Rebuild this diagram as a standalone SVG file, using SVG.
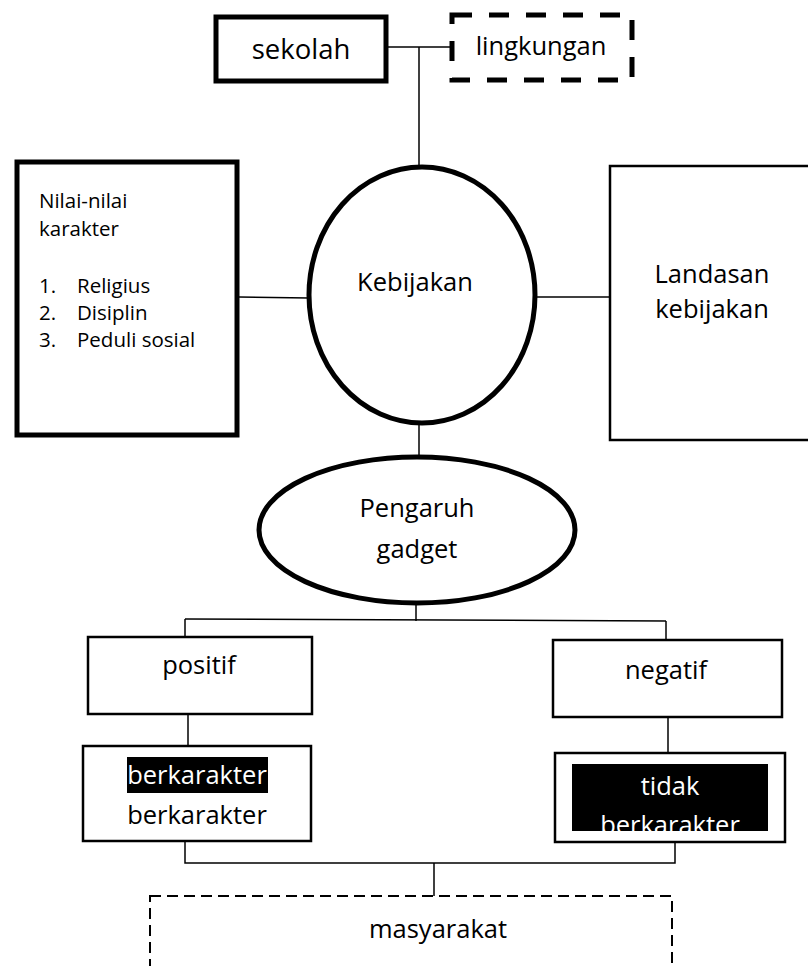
<svg xmlns="http://www.w3.org/2000/svg" width="808" height="966" viewBox="0 0 808 966">
<style>
.t{font-family:"Open Sans","Liberation Sans",sans-serif;font-size:25.5px;fill:#000;text-anchor:middle}
.s{font-family:"Open Sans","Liberation Sans",sans-serif;font-size:20.5px;fill:#000}
.thick{fill:#fff;stroke:#000;stroke-width:5}
.thin{fill:#fff;stroke:#000;stroke-width:2.5}
.c{fill:none;stroke:#000;stroke-width:1.5}
</style>
<rect width="808" height="966" fill="#fff"/>
<g id="connectors">
<path class="c" d="M387,47 H450"/>
<path class="c" d="M419,47 V167"/>
<path class="c" d="M239,297 L309,298"/>
<path class="c" d="M535,297 H610"/>
<path class="c" d="M419,423 V457"/>
<path class="c" d="M416,603 V621"/>
<path class="c" d="M185,619 L666,621"/>
<path class="c" d="M185,619 V637"/>
<path class="c" d="M666,621 V640"/>
<path class="c" d="M188,714 V746"/>
<path class="c" d="M668,717 V753"/>
<path class="c" d="M185,841 V863 H675 V842"/>
<path class="c" d="M434,863 V896"/>
</g>
<g id="sekolah">
<rect class="thick" x="216" y="17" width="170" height="64" stroke-width="4.5"/>
<text class="t" x="301" y="59" style="font-size:27.5px">sekolah</text>
</g>
<g id="lingkungan">
<rect x="452" y="15" width="180" height="65" fill="#fff" stroke="#000" stroke-width="5" stroke-dasharray="20,17"/>
<text class="t" x="541" y="55">lingkungan</text>
</g>
<g id="nilai">
<rect class="thick" x="17" y="162" width="220" height="273"/>
<text class="s" x="39" y="208">Nilai-nilai</text>
<text class="s" x="39" y="236">karakter</text>
<text class="s" x="39" y="293">1.</text><text class="s" x="77" y="293">Religius</text>
<text class="s" x="39" y="320">2.</text><text class="s" x="77" y="320">Disiplin</text>
<text class="s" x="39" y="347">3.</text><text class="s" x="77" y="347">Peduli sosial</text>
</g>
<g id="kebijakan">
<ellipse class="thick" cx="422" cy="295" rx="113" ry="128"/>
<text class="t" x="415" y="291">Kebijakan</text>
</g>
<g id="landasan">
<rect class="thin" x="610" y="166" width="210" height="274"/>
<text class="t" x="712" y="283">Landasan</text>
<text class="t" x="712" y="318">kebijakan</text>
</g>
<g id="pengaruh">
<ellipse class="thick" cx="417" cy="530" rx="158" ry="73"/>
<text class="t" x="417" y="517">Pengaruh</text>
<text class="t" x="417" y="558">gadget</text>
</g>
<g id="positif">
<rect class="thin" x="88" y="637" width="224" height="77"/>
<text class="t" x="199" y="674">positif</text>
</g>
<g id="negatif">
<rect class="thin" x="553" y="640" width="229" height="77"/>
<text class="t" x="666" y="679">negatif</text>
</g>
<g id="berkarakter">
<rect class="thin" x="83" y="746" width="228" height="95"/>
<rect x="127" y="757" width="141" height="36" fill="#000"/>
<text class="t" x="197" y="784" style="fill:#fff">berkarakter</text>
<text class="t" x="197" y="824">berkarakter</text>
</g>
<g id="tidak">
<rect class="thin" x="555" y="753" width="230" height="89" stroke-width="3"/>
<rect x="572" y="764" width="196" height="67" fill="#000"/>
<text class="t" x="670" y="795" style="fill:#fff">tidak</text>
<text class="t" x="670" y="834" style="fill:#fff">berkarakter</text>
</g>
<g id="masyarakat">
<rect x="150" y="896" width="522" height="110" fill="#fff" stroke="#000" stroke-width="2" stroke-dasharray="11,6"/>
<text class="t" x="438" y="938">masyarakat</text>
</g>
</svg>
